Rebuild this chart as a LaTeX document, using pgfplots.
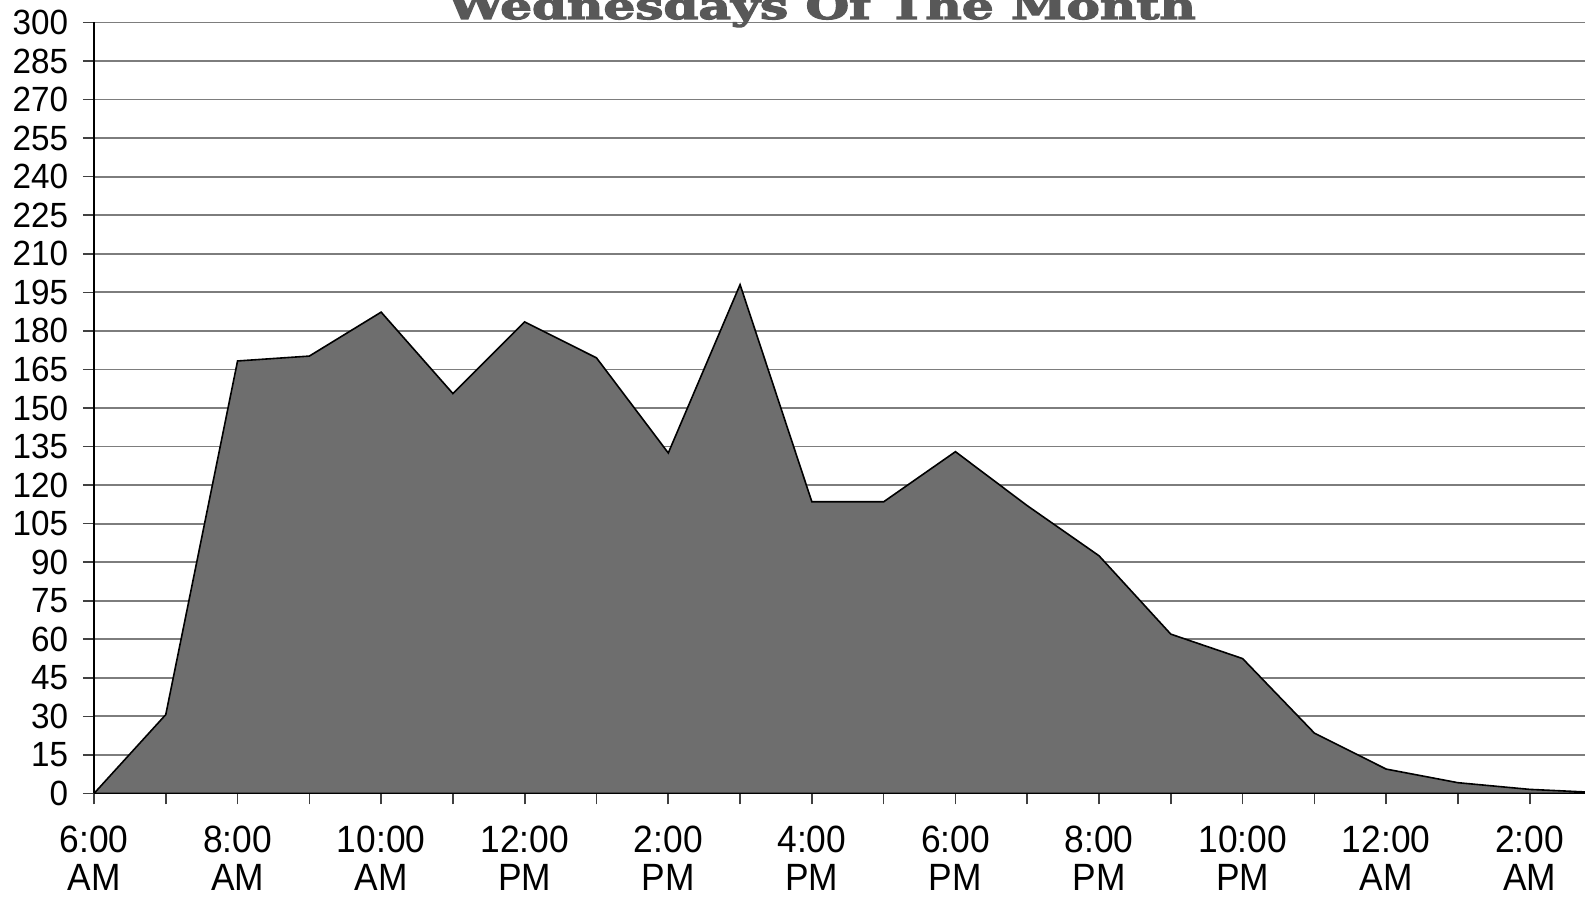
\documentclass[border=0pt]{standalone}
\usepackage{fontspec}
\setmainfont{Liberation Sans}
\newfontfamily\xlabfont{Liberation Sans}[FakeStretch=0.93]
\newfontfamily\ylabfont{Liberation Sans}[FakeStretch=0.95]
\newfontfamily\titlefont{DejaVu Serif}[BoldFeatures={FakeBold=3}]
\usepackage{pgfplots}
\pgfplotsset{compat=1.18}
\definecolor{areafill}{RGB}{110,110,110}
\definecolor{gridc}{RGB}{125,125,125}
\definecolor{titlec}{RGB}{88,88,88}
\begin{document}
\begin{tikzpicture}
\begin{axis}[
  name=ax,
  scale only axis,
  width=745.5pt, height=385.5pt,
  xmin=0, xmax=20.77, ymin=0, ymax=300,
  axis lines*=left,
  axis line style={black, line width=0.9pt},
  ytick={0,15,...,300},
  xtick={0,...,20},
  xticklabels={{6:00\\AM},{},{8:00\\AM},{},{10:00\\AM},{},{12:00\\PM},{},{2:00\\PM},{},{4:00\\PM},{},{6:00\\PM},{},{8:00\\PM},{},{10:00\\PM},{},{12:00\\AM},{},{2:00\\AM}},
  ymajorgrids,
  grid style={gridc, line width=0.9pt},
  tick align=outside,
  major tick length=5.5pt,
  tick style={black!75, line width=0.8pt},
  /pgf/number format/assume math mode=true,
  yticklabel style={font=\ylabfont\fontsize{17.5}{20}\selectfont, anchor=east, inner sep=0pt, xshift=-7.2pt},
  xticklabel style={font=\xlabfont\fontsize{19}{19}\selectfont, align=center, anchor=north, inner sep=0pt, yshift=-10.3pt},
  clip=true,
]
\addplot[fill=areafill, draw=black, line width=0.8pt] coordinates {
(0,0) (1,30.7) (2,168.3) (3,170.2) (4,187.3) (5,155.6) (6,183.5) (7,169.5)
(8,132.5) (9,198) (10,113.5) (11,113.5) (12,133) (13,112) (14,92.5) (15,62)
(16,52.5) (17,23.5) (18,9.5) (19,4.2) (20,1.6) (21,0.3)
} \closedcycle;
\end{axis}
\pgfresetboundingbox
\path[use as bounding box] ([xshift=-47pt, yshift=-51.75pt]ax.south west) rectangle ([yshift=11.25pt]ax.north east);
\node[anchor=base, text=titlec, inner sep=0pt] at ([xshift=364pt, yshift=1.75pt]ax.north west) {\resizebox{374pt}{14pt}{\titlefont\bfseries Wednesdays Of The Month}};
\end{tikzpicture}
\end{document}
